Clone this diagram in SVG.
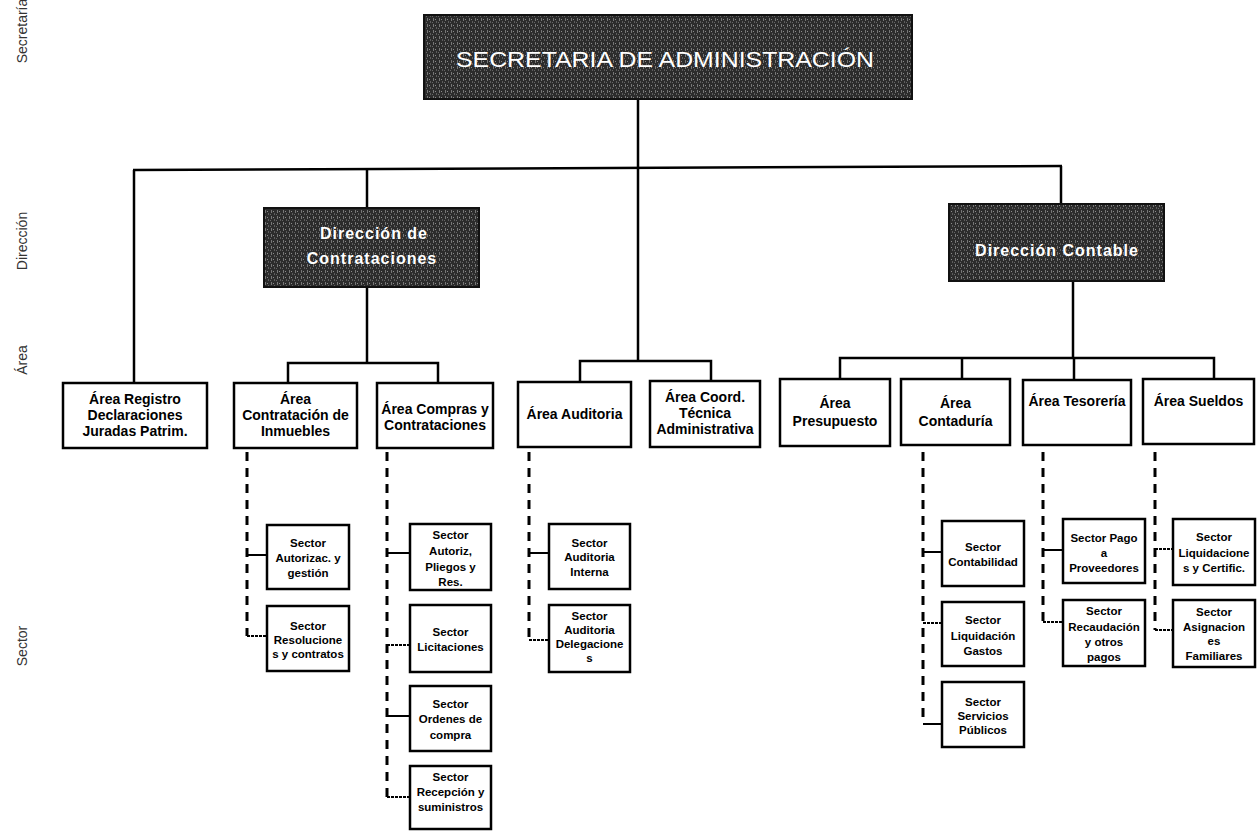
<svg xmlns="http://www.w3.org/2000/svg" width="1257" height="832" viewBox="0 0 1257 832">
<style>
.side{font-family:"Liberation Sans",Arial,sans-serif;font-size:14px;fill:#333;text-anchor:middle}
.dark{fill:url(#tex);stroke:#111;stroke-width:2}
.wt{font-family:"Liberation Sans",Arial,sans-serif;fill:#fff;text-anchor:middle}
.dir{font-size:16px;font-weight:bold;letter-spacing:1px}
.box{fill:#fff;stroke:#000;stroke-width:2.5}
.at{font-family:"Liberation Sans",Arial,sans-serif;font-size:14px;font-weight:bold;fill:#000;text-anchor:middle}
.st{font-family:"Liberation Sans",Arial,sans-serif;font-size:11.5px;font-weight:bold;fill:#000;text-anchor:middle}
.ln{stroke:#000;stroke-width:2.5;fill:none}
.dash{stroke:#000;stroke-width:3;stroke-dasharray:9 7;fill:none}
.tick{stroke:#000;stroke-width:2;fill:none}
.dot{stroke:#000;stroke-width:2;stroke-dasharray:3 1;fill:none}
</style>
<defs>
<pattern id="tex" width="6" height="6" patternUnits="userSpaceOnUse">
<rect width="6" height="6" fill="#2c2c2c"/>
<rect x="1" y="0" width="1" height="3" fill="#777"/>
<rect x="4" y="3" width="1" height="2" fill="#5e5e5e"/>
<rect x="3" y="1" width="1" height="1" fill="#8a8a8a"/>
<rect x="0" y="4" width="1" height="1" fill="#666"/>
</pattern>
</defs>
<rect width="1257" height="832" fill="#fff"/>

<g id="side-labels">
<text class="side" transform="translate(27,31) rotate(-90)">Secretaría</text>
<text class="side" transform="translate(27,241) rotate(-90)">Dirección</text>
<text class="side" transform="translate(27,360) rotate(-90)">Área</text>
<text class="side" transform="translate(27,646) rotate(-90)">Sector</text>
</g>

<g id="connectors">
<line class="ln" x1="638" y1="99" x2="638" y2="361"/>
<line class="ln" x1="133" y1="170" x2="1062" y2="166"/>
<line class="ln" x1="134" y1="170" x2="134" y2="383"/>
<line class="ln" x1="367" y1="169" x2="367" y2="208"/>
<line class="ln" x1="1061" y1="166" x2="1061" y2="204"/>
<polyline class="ln" points="367,287 367,363"/>
<polyline class="ln" points="288,383 288,363 438,363 438,383"/>
<polyline class="ln" points="580,382 580,361 711,361 711,381"/>
<line class="ln" x1="1073" y1="281" x2="1073" y2="358"/>
<polyline class="ln" points="840,379 840,358 1214,358 1214,379"/>
<line class="ln" x1="962" y1="358" x2="962" y2="379"/>
<line class="ln" x1="1074" y1="358" x2="1074" y2="380"/>

<line class="dash" x1="247" y1="452" x2="247" y2="636"/>
<line class="tick" x1="247" y1="555" x2="267" y2="555"/>
<line class="dot" x1="247" y1="636" x2="267" y2="636"/>

<line class="dash" x1="387" y1="452" x2="387" y2="797"/>
<line class="tick" x1="387" y1="553" x2="410" y2="553"/>
<line class="dot" x1="387" y1="645" x2="410" y2="645"/>
<line class="tick" x1="387" y1="716" x2="410" y2="716"/>
<line class="dot" x1="387" y1="797" x2="410" y2="797"/>

<line class="dash" x1="529" y1="452" x2="529" y2="640"/>
<line class="tick" x1="529" y1="553" x2="549" y2="553"/>
<line class="dot" x1="529" y1="640" x2="549" y2="640"/>

<line class="dash" x1="923" y1="452" x2="923" y2="724"/>
<line class="tick" x1="923" y1="552" x2="942" y2="552"/>
<line class="dot" x1="923" y1="623" x2="942" y2="623"/>
<line class="tick" x1="923" y1="724" x2="942" y2="724"/>

<line class="dash" x1="1043" y1="452" x2="1043" y2="622"/>
<line class="tick" x1="1043" y1="550" x2="1063" y2="550"/>
<line class="dot" x1="1043" y1="622" x2="1063" y2="622"/>

<line class="dash" x1="1155" y1="452" x2="1155" y2="630"/>
<line class="dot" x1="1155" y1="549" x2="1173" y2="549"/>
<line class="dot" x1="1155" y1="630" x2="1173" y2="630"/>
</g>

<g id="secretaria">
<rect class="dark" x="424" y="15" width="488" height="84"/>
<text class="wt" x="665" y="67" font-size="22" textLength="418" lengthAdjust="spacingAndGlyphs">SECRETARIA DE ADMINISTRACIÓN</text>
</g>

<g id="dir-contrataciones">
<rect class="dark" x="264" y="208" width="215" height="79"/>
<text class="wt dir" x="374" y="239">Dirección de</text>
<text class="wt dir" x="372" y="264">Contrataciones</text>
</g>

<g id="dir-contable">
<rect class="dark" x="949" y="204" width="215" height="77"/>
<text class="wt dir" x="1057" y="256">Dirección Contable</text>
</g>

<g id="area-registro">
<rect class="box" x="63" y="383" width="144" height="65"/>
<text class="at" x="135" y="404">Área Registro</text>
<text class="at" x="135" y="420">Declaraciones</text>
<text class="at" x="135" y="436">Juradas Patrim.</text>
</g>
<g id="area-inmuebles">
<rect class="box" x="234" y="383" width="123" height="65"/>
<text class="at" x="295.5" y="404">Área</text>
<text class="at" x="295.5" y="420">Contratación de</text>
<text class="at" x="295.5" y="436">Inmuebles</text>
</g>
<g id="area-compras">
<rect class="box" x="377" y="383" width="116" height="65"/>
<text class="at" x="435" y="414">Área Compras y</text>
<text class="at" x="435" y="430">Contrataciones</text>
</g>
<g id="area-auditoria">
<rect class="box" x="518" y="382" width="113" height="65"/>
<text class="at" x="574.5" y="419">Área Auditoria</text>
</g>
<g id="area-coord">
<rect class="box" x="650" y="381" width="110" height="66"/>
<text class="at" x="705" y="402">Área Coord.</text>
<text class="at" x="705" y="418">Técnica</text>
<text class="at" x="705" y="434">Administrativa</text>
</g>
<g id="area-presupuesto">
<rect class="box" x="780" y="379" width="110" height="67"/>
<text class="at" x="835" y="408">Área</text>
<text class="at" x="835" y="426">Presupuesto</text>
</g>
<g id="area-contaduria">
<rect class="box" x="901" y="379" width="109" height="66"/>
<text class="at" x="955.5" y="408">Área</text>
<text class="at" x="955.5" y="426">Contaduría</text>
</g>
<g id="area-tesoreria">
<rect class="box" x="1023" y="380" width="108" height="65"/>
<text class="at" x="1077" y="406">Área Tesorería</text>
</g>
<g id="area-sueldos">
<rect class="box" x="1143" y="379" width="111" height="65"/>
<text class="at" x="1198.5" y="406">Área Sueldos</text>
</g>

<g id="sector-autorizac">
<rect class="box" x="267" y="525" width="82" height="64"/>
<text class="st" x="308" y="547">Sector</text>
<text class="st" x="308" y="562">Autorizac. y</text>
<text class="st" x="308" y="577">gestión</text>
</g>
<g id="sector-resoluciones">
<rect class="box" x="267" y="606" width="82" height="65"/>
<text class="st" x="308" y="630">Sector</text>
<text class="st" x="308" y="644">Resolucione</text>
<text class="st" x="308" y="658">s y contratos</text>
</g>
<g id="sector-pliegos">
<rect class="box" x="410" y="524" width="81" height="66"/>
<text class="st" x="450.5" y="539">Sector</text>
<text class="st" x="450.5" y="555">Autoriz,</text>
<text class="st" x="450.5" y="571">Pliegos y</text>
<text class="st" x="450.5" y="586">Res.</text>
</g>
<g id="sector-licitaciones">
<rect class="box" x="410" y="605" width="81" height="67"/>
<text class="st" x="450.5" y="636">Sector</text>
<text class="st" x="450.5" y="651">Licitaciones</text>
</g>
<g id="sector-ordenes">
<rect class="box" x="410" y="686" width="81" height="65"/>
<text class="st" x="450.5" y="708">Sector</text>
<text class="st" x="450.5" y="723">Ordenes de</text>
<text class="st" x="450.5" y="739">compra</text>
</g>
<g id="sector-recepcion">
<rect class="box" x="410" y="766" width="81" height="63"/>
<text class="st" x="450.5" y="781">Sector</text>
<text class="st" x="450.5" y="796">Recepción y</text>
<text class="st" x="450.5" y="811">suministros</text>
</g>
<g id="sector-aud-interna">
<rect class="box" x="549" y="524" width="81" height="65"/>
<text class="st" x="589.5" y="547">Sector</text>
<text class="st" x="589.5" y="561">Auditoria</text>
<text class="st" x="589.5" y="576">Interna</text>
</g>
<g id="sector-aud-delegaciones">
<rect class="box" x="549" y="605" width="81" height="67"/>
<text class="st" x="589.5" y="620">Sector</text>
<text class="st" x="589.5" y="634">Auditoria</text>
<text class="st" x="589.5" y="648">Delegacione</text>
<text class="st" x="589.5" y="662">s</text>
</g>
<g id="sector-contabilidad">
<rect class="box" x="942" y="521" width="82" height="65"/>
<text class="st" x="983" y="551">Sector</text>
<text class="st" x="983" y="566">Contabilidad</text>
</g>
<g id="sector-liq-gastos">
<rect class="box" x="942" y="602" width="82" height="64"/>
<text class="st" x="983" y="624">Sector</text>
<text class="st" x="983" y="640">Liquidación</text>
<text class="st" x="983" y="655">Gastos</text>
</g>
<g id="sector-servicios">
<rect class="box" x="942" y="682" width="82" height="65"/>
<text class="st" x="983" y="706">Sector</text>
<text class="st" x="983" y="720">Servicios</text>
<text class="st" x="983" y="734">Públicos</text>
</g>
<g id="sector-pago">
<rect class="box" x="1063" y="519" width="82" height="64"/>
<text class="st" x="1104" y="542">Sector Pago</text>
<text class="st" x="1104" y="557">a</text>
<text class="st" x="1104" y="572">Proveedores</text>
</g>
<g id="sector-recaudacion">
<rect class="box" x="1063" y="600" width="82" height="66"/>
<text class="st" x="1104" y="615">Sector</text>
<text class="st" x="1104" y="631">Recaudación</text>
<text class="st" x="1104" y="646">y otros</text>
<text class="st" x="1104" y="661">pagos</text>
</g>
<g id="sector-liquidaciones">
<rect class="box" x="1173" y="519" width="82" height="66"/>
<text class="st" x="1214" y="541">Sector</text>
<text class="st" x="1214" y="557">Liquidacione</text>
<text class="st" x="1214" y="572">s y Certific.</text>
</g>
<g id="sector-asignaciones">
<rect class="box" x="1173" y="600" width="82" height="67"/>
<text class="st" x="1214" y="616">Sector</text>
<text class="st" x="1214" y="631">Asignacion</text>
<text class="st" x="1214" y="645">es</text>
<text class="st" x="1214" y="660">Familiares</text>
</g>
</svg>
